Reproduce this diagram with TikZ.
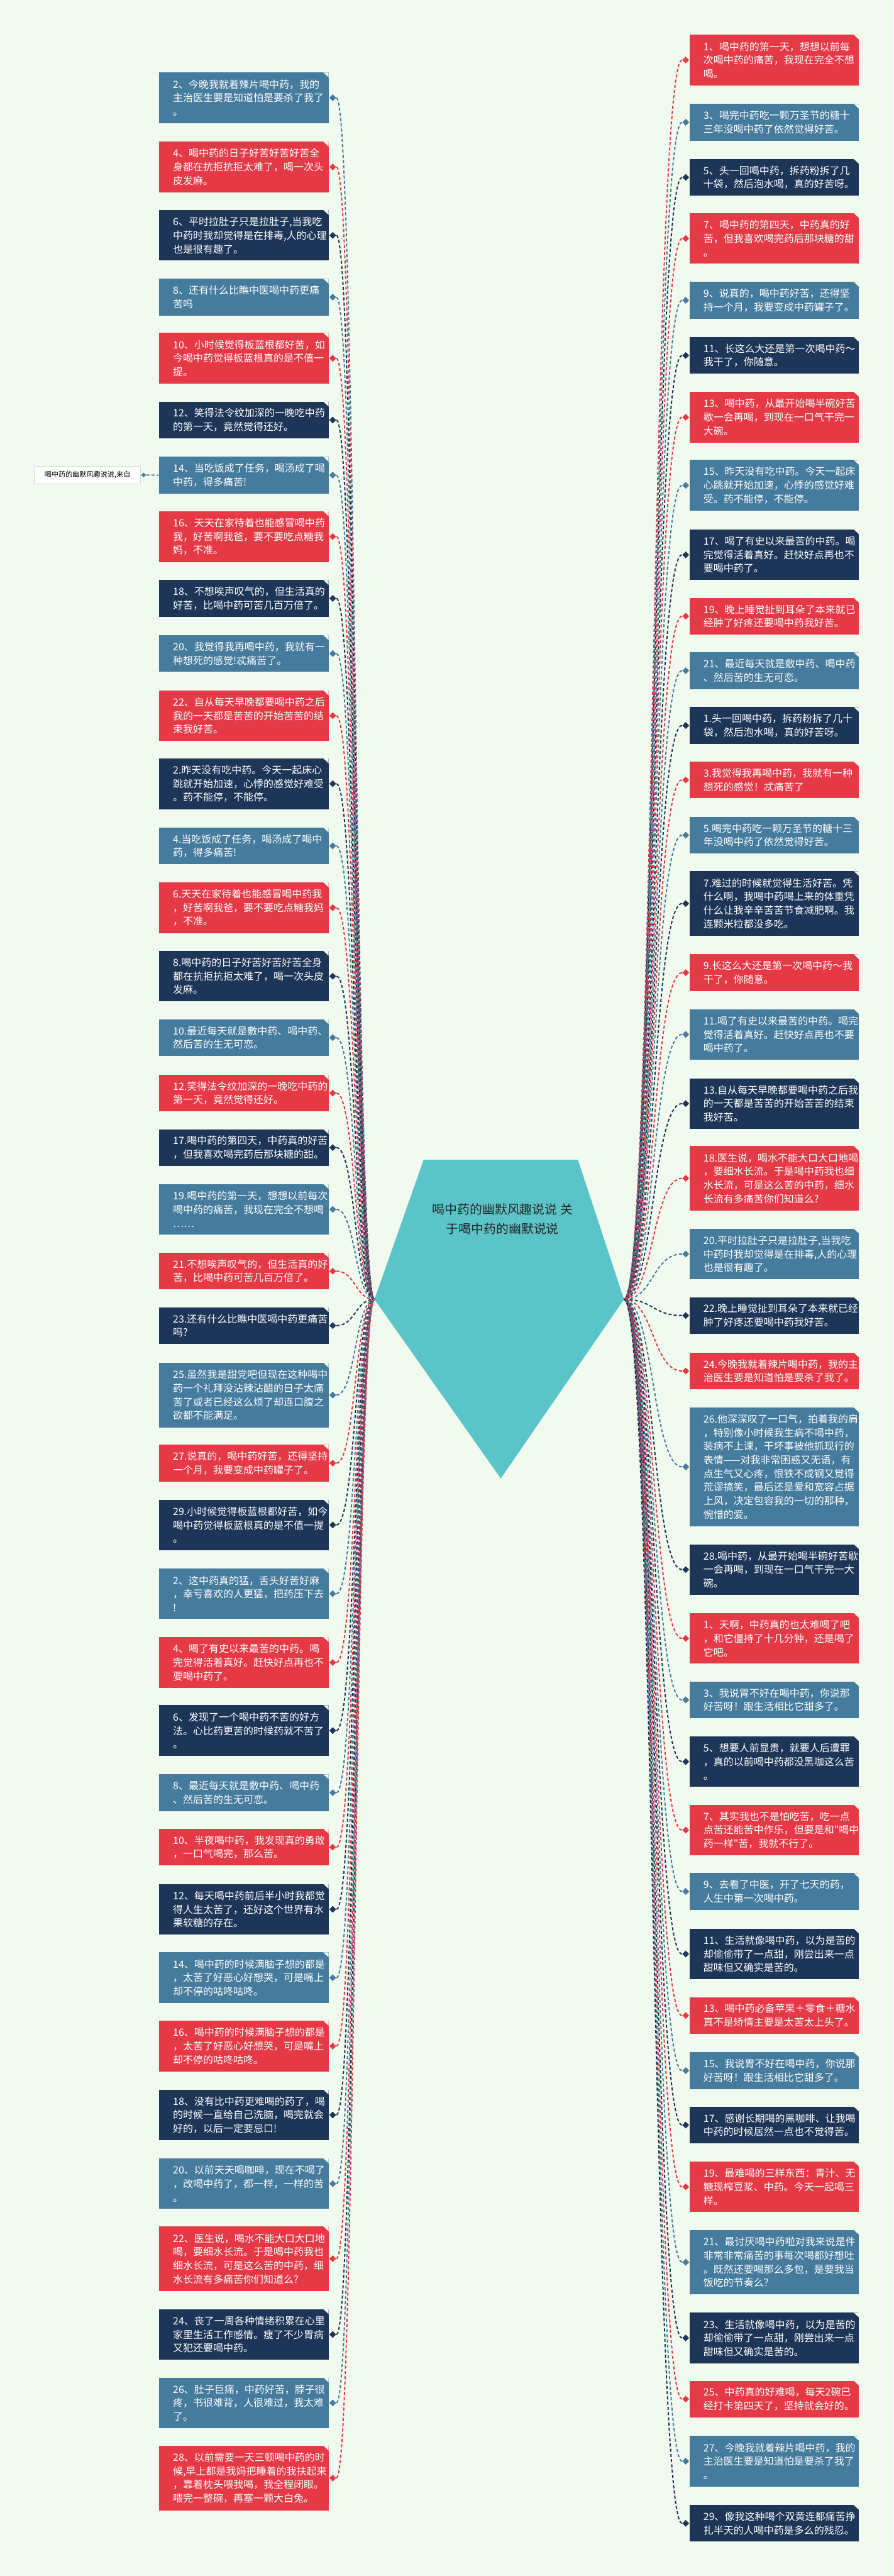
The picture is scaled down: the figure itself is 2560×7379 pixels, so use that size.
\documentclass[tikz,border=0pt]{standalone}
\usepackage{fontspec}
\newfontfamily\cjk{Noto Sans CJK SC}
\usetikzlibrary{shapes.geometric}

\definecolor{bgmint}{HTML}{F1FAEE}
\definecolor{tred}{HTML}{E63946}
\definecolor{tnavy}{HTML}{1D3557}
\definecolor{tblue}{HTML}{457B9D}
\definecolor{hubcyan}{HTML}{5BC4C8}

\begin{document}
\begin{tikzpicture}[
  x=0.1mm, y=-0.1mm,
  box/.style  = {rectangle, anchor=north west, inner sep=0pt, minimum width=48.6mm,
                 text width=40.6mm, align=left, text=white,
                 font=\cjk\fontsize{8.2pt}{11.1pt}\selectfont,
                 path picture={\fill[bgmint] (path picture bounding box.north east)
                   -- ++(-1.5mm,0) -- ++(1.5mm,-1.4mm) -- cycle;}},
  rd/.style   = {box, fill=tred},
  nv/.style   = {box, fill=tnavy},
  bl/.style   = {box, fill=tblue},
  h2/.style   = {minimum height=10.5mm},
  h3/.style   = {minimum height=14.5mm},
  h4/.style   = {minimum height=18.5mm},
  h8/.style   = {minimum height=34mm},
  tag/.style  = {rectangle, anchor=north west, draw=black!15, fill=white, inner sep=0pt,
                 minimum width=30.4mm, minimum height=5.2mm, text=black,
                 font=\cjk\fontsize{5.7pt}{7pt}\selectfont},
  dia/.style  = {diamond, inner sep=0pt, minimum size=2mm},
  lnk/.style  = {line width=0.35mm, dash pattern=on 0.9mm off 0.6mm},
  hubtxt/.style = {align=center, text=black!85, inner sep=0pt,
                 font=\cjk\fontsize{10.2pt}{16pt}\selectfont},
]

% background and page size
\fill[bgmint] (0,0) rectangle (2560,7379);
\useasboundingbox (0,0) rectangle (2560,7379);

% =========================== centre ========================================
\coordinate (ptl) at (1214,3322);
\coordinate (ptr) at (1656,3322);
\coordinate (cr)  at (1788,3722);
\coordinate (pbt) at (1435,4235);
\coordinate (cl)  at (1073,3722);
\fill[hubcyan] (ptl) -- (ptr) -- (cr) -- (pbt) -- (cl) -- cycle;
\node[hubtxt] (hub) at (1440,3492) {喝中药的幽默风趣说说 关\\于喝中药的幽默说说};

% =========================== left column ===================================
\node[bl,h3] (lq1)  at (455,207)  {2、今晚我就着辣片喝中药，我的\\主治医生要是知道怕是要杀了我了\\。};
\node[rd,h3] (lq2)  at (455,405)  {4、喝中药的日子好苦好苦好苦全\\身都在抗拒抗拒太难了，喝一次头\\皮发麻。};
\node[nv,h3] (lq3)  at (455,601)  {6、平时拉肚子只是拉肚子,当我吃\\中药时我却觉得是在排毒,人的心理\\也是很有趣了。};
\node[bl,h2] (lq4)  at (455,798)  {8、还有什么比瞧中医喝中药更痛\\苦吗};
\node[rd,h3] (lq5)  at (455,953)  {10、小时候觉得板蓝根都好苦，如\\今喝中药觉得板蓝根真的是不值一\\提。};
\node[nv,h2] (lq6)  at (455,1150) {12、笑得法令纹加深的一晚吃中药\\的第一天，竟然觉得还好。};
\node[bl,h2] (lq7)  at (455,1308) {14、当吃饭成了任务，喝汤成了喝\\中药，得多痛苦!};
\node[rd,h3] (lq8)  at (455,1464) {16、天天在家待着也能感冒喝中药\\我，好苦啊我爸，要不要吃点糖我\\妈，不准。};
\node[nv,h2] (lq9)  at (455,1661) {18、不想唉声叹气的，但生活真的\\好苦，比喝中药可苦几百万倍了。};
\node[bl,h2] (lq10) at (455,1819) {20、我觉得我再喝中药，我就有一\\种想死的感觉!忒痛苦了。};
\node[rd,h3] (lq11) at (455,1977) {22、自从每天早晚都要喝中药之后\\我的一天都是苦苦的开始苦苦的结\\束我好苦。};
\node[nv,h3] (lq12) at (455,2172) {2.昨天没有吃中药。今天一起床心\\跳就开始加速，心悸的感觉好难受\\。药不能停，不能停。};
\node[bl,h2] (lq13) at (455,2370) {4.当吃饭成了任务，喝汤成了喝中\\药，得多痛苦!};
\node[rd,h3] (lq14) at (455,2527) {6.天天在家待着也能感冒喝中药我\\，好苦啊我爸，要不要吃点糖我妈\\，不准。};
\node[nv,h3] (lq15) at (455,2723) {8.喝中药的日子好苦好苦好苦全身\\都在抗拒抗拒太难了，喝一次头皮\\发麻。};
\node[bl,h2] (lq16) at (455,2919) {10.最近每天就是敷中药、喝中药、\\然后苦的生无可恋。};
\node[rd,h2] (lq17) at (455,3078) {12.笑得法令纹加深的一晚吃中药的\\第一天，竟然觉得还好。};
\node[nv,h2] (lq18) at (455,3234) {17.喝中药的第四天，中药真的好苦\\，但我喜欢喝完药后那块糖的甜。};
\node[bl,h3] (lq19) at (455,3391) {19.喝中药的第一天，想想以前每次\\喝中药的痛苦，我现在完全不想喝\\……};
\node[rd,h2] (lq20) at (455,3588) {21.不想唉声叹气的，但生活真的好\\苦，比喝中药可苦几百万倍了。};
\node[nv,h2] (lq21) at (455,3744) {23.还有什么比瞧中医喝中药更痛苦\\吗?};
\node[bl,h4] (lq22) at (455,3903) {25.虽然我是甜党吧但现在这种喝中\\药一个礼拜没沾辣沾醋的日子太痛\\苦了或者已经这么烦了却连口腹之\\欲都不能满足。};
\node[rd,h2] (lq23) at (455,4138) {27.说真的，喝中药好苦，还得坚持\\一个月，我要变成中药罐子了。};
\node[nv,h3] (lq24) at (455,4295) {29.小时候觉得板蓝根都好苦，如今\\喝中药觉得板蓝根真的是不值一提\\。};
\node[bl,h3] (lq25) at (455,4492) {2、这中药真的猛，舌头好苦好麻\\，幸亏喜欢的人更猛，把药压下去\\!};
\node[rd,h3] (lq26) at (455,4689) {4、喝了有史以来最苦的中药。喝\\完觉得活着真好。赶快好点再也不\\要喝中药了。};
\node[nv,h3] (lq27) at (455,4884) {6、发现了一个喝中药不苦的好方\\法。心比药更苦的时候药就不苦了\\。};
\node[bl,h2] (lq28) at (455,5082) {8、最近每天就是敷中药、喝中药\\、然后苦的生无可恋。};
\node[rd,h2] (lq29) at (455,5238) {10、半夜喝中药，我发现真的勇敢\\，一口气喝完，那么苦。};
\node[nv,h3] (lq30) at (455,5396) {12、每天喝中药前后半小时我都觉\\得人生太苦了，还好这个世界有水\\果软糖的存在。};
\node[bl,h3] (lq31) at (455,5592) {14、喝中药的时候满脑子想的都是\\，太苦了好恶心好想哭，可是嘴上\\却不停的咕咚咕咚。};
\node[rd,h3] (lq32) at (455,5788) {16、喝中药的时候满脑子想的都是\\，太苦了好恶心好想哭，可是嘴上\\却不停的咕咚咕咚。};
\node[nv,h3] (lq33) at (455,5985) {18、没有比中药更难喝的药了，喝\\的时候一直给自己洗脑，喝完就会\\好的，以后一定要忌口!};
\node[bl,h3] (lq34) at (455,6182) {20、以前天天喝咖啡，现在不喝了\\，改喝中药了，都一样，一样的苦\\。};
\node[rd,h4] (lq35) at (455,6377) {22、医生说，喝水不能大口大口地\\喝，要细水长流。于是喝中药我也\\细水长流，可是这么苦的中药，细\\水长流有多痛苦你们知道么?};
\node[nv,h3] (lq36) at (455,6614) {24、丧了一周各种情绪积累在心里\\家里生活工作感情。瘦了不少胃病\\又犯还要喝中药。};
\node[bl,h3] (lq37) at (455,6810) {26、肚子巨痛，中药好苦，脖子很\\疼，书很难背，人很难过，我太难\\了。};
\node[rd,h4] (lq38) at (455,7005) {28、以前需要一天三顿喝中药的时\\候,早上都是我妈把睡着的我扶起来\\，靠着枕头喂我喝，我全程闭眼。\\喂完一整碗，再塞一颗大白兔。};

% source tag hanging off item 14
\node[tag] (src) at (98,1334) {喝中药的幽默风趣说说,来自};
\node[dia, minimum size=1.4mm, fill=tblue] (sd) at ([xshift=0.8mm]src.east) {};
\draw[lnk, draw=tblue] (sd.east) -- (lq7.west);

% =========================== right column ==================================
\node[rd,h3] (rq1)  at (1975,99)   {1、喝中药的第一天，想想以前每\\次喝中药的痛苦，我现在完全不想\\喝。};
\node[bl,h2] (rq2)  at (1975,297)  {3、喝完中药吃一颗万圣节的糖十\\三年没喝中药了依然觉得好苦。};
\node[nv,h2] (rq3)  at (1975,455)  {5、头一回喝中药，拆药粉拆了几\\十袋，然后泡水喝，真的好苦呀。};
\node[rd,h3] (rq4)  at (1975,610)  {7、喝中药的第四天，中药真的好\\苦，但我喜欢喝完药后那块糖的甜\\。};
\node[bl,h2] (rq5)  at (1975,807)  {9、说真的，喝中药好苦，还得坚\\持一个月，我要变成中药罐子了。};
\node[nv,h2] (rq6)  at (1975,965)  {11、长这么大还是第一次喝中药～\\我干了，你随意。};
\node[rd,h3] (rq7)  at (1975,1122) {13、喝中药，从最开始喝半碗好苦\\歇一会再喝，到现在一口气干完一\\大碗。};
\node[bl,h3] (rq8)  at (1975,1317) {15、昨天没有吃中药。今天一起床\\心跳就开始加速，心悸的感觉好难\\受。药不能停，不能停。};
\node[nv,h3] (rq9)  at (1975,1516) {17、喝了有史以来最苦的中药。喝\\完觉得活着真好。赶快好点再也不\\要喝中药了。};
\node[rd,h2] (rq10) at (1975,1712) {19、晚上睡觉扯到耳朵了本来就已\\经肿了好疼还要喝中药我好苦。};
\node[bl,h2] (rq11) at (1975,1868) {21、最近每天就是敷中药、喝中药\\、然后苦的生无可恋。};
\node[nv,h2] (rq12) at (1975,2025) {1.头一回喝中药，拆药粉拆了几十\\袋，然后泡水喝，真的好苦呀。};
\node[rd,h2] (rq13) at (1975,2181) {3.我觉得我再喝中药，我就有一种\\想死的感觉！忒痛苦了};
\node[bl,h2] (rq14) at (1975,2339) {5.喝完中药吃一颗万圣节的糖十三\\年没喝中药了依然觉得好苦。};
\node[nv,h4] (rq15) at (1975,2495) {7.难过的时候就觉得生活好苦。凭\\什么啊，我喝中药喝上来的体重凭\\什么让我辛辛苦苦节食减肥啊。我\\连颗米粒都没多吃。};
\node[rd,h2] (rq16) at (1975,2733) {9.长这么大还是第一次喝中药～我\\干了，你随意。};
\node[bl,h3] (rq17) at (1975,2890) {11.喝了有史以来最苦的中药。喝完\\觉得活着真好。赶快好点再也不要\\喝中药了。};
\node[nv,h3] (rq18) at (1975,3088) {13.自从每天早晚都要喝中药之后我\\的一天都是苦苦的开始苦苦的结束\\我好苦。};
\node[rd,h4] (rq19) at (1975,3282) {18.医生说，喝水不能大口大口地喝\\，要细水长流。于是喝中药我也细\\水长流，可是这么苦的中药，细水\\长流有多痛苦你们知道么?};
\node[bl,h3] (rq20) at (1975,3519) {20.平时拉肚子只是拉肚子,当我吃\\中药时我却觉得是在排毒,人的心理\\也是很有趣了。};
\node[nv,h2] (rq21) at (1975,3715) {22.晚上睡觉扯到耳朵了本来就已经\\肿了好疼还要喝中药我好苦。};
\node[rd,h2] (rq22) at (1975,3874) {24.今晚我就着辣片喝中药，我的主\\治医生要是知道怕是要杀了我了。};
\node[bl,h8] (rq23) at (1975,4031) {26.他深深叹了一口气，拍着我的肩\\，特别像小时候我生病不喝中药，\\装病不上课，干坏事被他抓现行的\\\mbox{表情——对我非常困惑又无语，有}\\点生气又心疼，恨铁不成钢又觉得\\荒谬搞笑，最后还是爱和宽容占据\\上风，决定包容我的一切的那种，\\惋惜的爱。};
\node[nv,h3] (rq24) at (1975,4423) {28.喝中药，从最开始喝半碗好苦歇\\一会再喝，到现在一口气干完一大\\碗。};
\node[rd,h3] (rq25) at (1975,4620) {1、天啊，中药真的也太难喝了吧\\，和它僵持了十几分钟，还是喝了\\它吧。};
\node[bl,h2] (rq26) at (1975,4816) {3、我说胃不好在喝中药，你说那\\好苦呀！跟生活相比它甜多了。};
\node[nv,h3] (rq27) at (1975,4973) {5、想要人前显贵，就要人后遭罪\\，真的以前喝中药都没黑咖这么苦\\。};
\node[rd,h3] (rq28) at (1975,5169) {7、其实我也不是怕吃苦，吃一点\\点苦还能苦中作乐，但要是和"喝中\\药一样"苦，我就不行了。};
\node[bl,h2] (rq29) at (1975,5365) {9、去看了中医，开了七天的药，\\人生中第一次喝中药。};
\node[nv,h3] (rq30) at (1975,5524) {11、生活就像喝中药，以为是苦的\\却偷偷带了一点甜，刚尝出来一点\\甜味但又确实是苦的。};
\node[rd,h2] (rq31) at (1975,5720) {13、喝中药必备苹果＋零食＋糖水\\真不是矫情主要是太苦太上头了。};
\node[bl,h2] (rq32) at (1975,5878) {15、我说胃不好在喝中药，你说那\\好苦呀！跟生活相比它甜多了。};
\node[nv,h2] (rq33) at (1975,6034) {17、感谢长期喝的黑咖啡、让我喝\\中药的时候居然一点也不觉得苦。};
\node[rd,h3] (rq34) at (1975,6191) {19、最难喝的三样东西：青汁、无\\糖现榨豆浆、中药。今天一起喝三\\样。};
\node[bl,h4] (rq35) at (1975,6387) {21、最讨厌喝中药啦对我来说是件\\非常非常痛苦的事每次喝都好想吐\\。既然还要喝那么多包，是要我当\\饭吃的节奏么?};
\node[nv,h3] (rq36) at (1975,6624) {23、生活就像喝中药，以为是苦的\\却偷偷带了一点甜，刚尝出来一点\\甜味但又确实是苦的。};
\node[rd,h2] (rq37) at (1975,6819) {25、中药真的好难喝，每天2碗已\\经打卡第四天了，坚持就会好的。};
\node[bl,h3] (rq38) at (1975,6977) {27、今晚我就着辣片喝中药，我的\\主治医生要是知道怕是要杀了我了\\。};
\node[nv,h2] (rq39) at (1975,7175) {29、像我这种喝个双黄连都痛苦挣\\扎半天的人喝中药是多么的残忍。};

% =========================== connectors ====================================
\foreach \i/\c in {1/tblue,2/tred,3/tnavy,4/tblue,5/tred,6/tnavy,7/tblue,8/tred,
    9/tnavy,10/tblue,11/tred,12/tnavy,13/tblue,14/tred,15/tnavy,16/tblue,17/tred,
    18/tnavy,19/tblue,20/tred,21/tnavy,22/tblue,23/tred,24/tnavy,25/tblue,26/tred,
    27/tnavy,28/tblue,29/tred,30/tnavy,31/tblue,32/tred,33/tnavy,34/tblue,35/tred,
    36/tnavy,37/tblue,38/tred}{
  \node[dia, fill=\c] (ld\i) at ([xshift=1.1mm]lq\i.east) {};
  \draw[lnk, draw=\c] (ld\i.east) .. controls +(55,0) and +(-55,0) .. (cl);
}
\foreach \i/\c in {1/tred,2/tblue,3/tnavy,4/tred,5/tblue,6/tnavy,7/tred,8/tblue,
    9/tnavy,10/tred,11/tblue,12/tnavy,13/tred,14/tblue,15/tnavy,16/tred,17/tblue,
    18/tnavy,19/tred,20/tblue,21/tnavy,22/tred,23/tblue,24/tnavy,25/tred,26/tblue,
    27/tnavy,28/tred,29/tblue,30/tnavy,31/tred,32/tblue,33/tnavy,34/tred,35/tblue,
    36/tnavy,37/tred,38/tblue,39/tnavy}{
  \node[dia, fill=\c] (rd\i) at ([xshift=-1.0mm]rq\i.west) {};
  \draw[lnk, draw=\c] (rd\i.west) .. controls +(-85,0) and +(85,0) .. (cr);
}

\end{tikzpicture}
\end{document}
